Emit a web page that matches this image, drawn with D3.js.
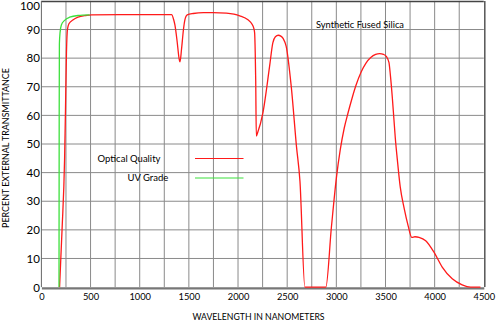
<!DOCTYPE html>
<html>
<head>
<meta charset="utf-8">
<script src="https://cdn.jsdelivr.net/npm/d3@7"></script>
<style>
  html, body { margin: 0; padding: 0; background: #fff; }
  svg { display: block; font-family: Lato, "Liberation Sans", sans-serif; }
</style>
</head>
<body>
<svg id="chart" width="497" height="324"></svg>
<script>
// Axis ticks and grid
const xTickValues = [0, 500, 1000, 1500, 2000, 2500, 3000, 3500, 4000, 4500];
const xGridValues = [250, 500, 750, 1000, 1250, 1500, 1750, 2000, 2250, 2500, 2750, 3000, 3250, 3500, 3750, 4000, 4250];
const yTickValues = [0, 10, 20, 30, 40, 50, 60, 70, 80, 90, 100];
const yGridValues = [10, 20, 30, 40, 50, 60, 70, 80, 90];

// Optical Quality transmittance curve (wavelength nm, % transmittance)
const opticalWavelength = [185, 210, 236, 245, 255, 265, 280, 320, 372, 456, 510, 800, 1100, 1324, 1345, 1358, 1380, 1400, 1410, 1425, 1445, 1459, 1483, 1544, 1650, 1746, 1882, 2017, 2101, 2140, 2160, 2169, 2175, 2180, 2186, 2200, 2253, 2321, 2354, 2380, 2410, 2435, 2460, 2490, 2541, 2595, 2630, 2680, 2893, 2950, 3000, 3040, 3080, 3120, 3160, 3200, 3250, 3300, 3350, 3400, 3440, 3480, 3510, 3535, 3550, 3570, 3585, 3600, 3620, 3650, 3690, 3730, 3767, 3800, 3841, 3909, 3993, 4077, 4179, 4280, 4365, 4466];
const opticalTransmittance = [0, 20, 45, 62, 82, 90, 92, 93.3, 94.3, 94.9, 95.1, 95.2, 95.2, 95.2, 93.5, 91.6, 86, 80, 78.7, 83, 90, 93.3, 95.1, 95.6, 95.9, 95.9, 95.7, 94.8, 93.4, 92, 90.5, 88.8, 82, 72, 52.8, 54, 60.9, 77.1, 85.3, 87.5, 88, 87.7, 86.8, 84.1, 70.2, 49, 37, 0, 0, 21, 38, 48, 55.5, 61, 66, 70.5, 75, 78.2, 80.2, 81.3, 81.6, 81.3, 80.5, 78.5, 74, 66, 59, 52, 44.7, 35, 27.5, 21.5, 17.4, 17.6, 17.4, 16.2, 12.2, 7, 2.9, 0.8, 0, 0];

// UV Grade transmittance curve
const uvWavelength = [179, 181, 183, 190, 203, 236, 287, 372, 490];
const uvTransmittance = [0, 60, 85, 89, 91.6, 93.2, 94.3, 94.9, 95.1];

const seriesNames = ["Optical Quality", "UV Grade"];
const seriesColors = ["#ff1a1a", "#3de03d"];
const chartTitle = "Synthetic Fused Silica";
const xTitle = "WAVELENGTH IN NANOMETERS";
const yTitle = "PERCENT EXTERNAL TRANSMITTANCE";

const svg = d3.select("#chart");

const x = d3.scaleLinear().domain([0, 4500]).range([41.4, 483.8]);
const y = d3.scaleLinear().domain([0, 100]).range([287.1, 0.9]);

// Grid
const grid = svg.append("g").attr("stroke", "#8a8a8a").attr("stroke-width", 1);
grid.selectAll("line.gx").data(xGridValues).join("line")
  .attr("class", "gx")
  .attr("x1", d => x(d)).attr("x2", d => x(d))
  .attr("y1", y(100)).attr("y2", y(0));
grid.selectAll("line.gy").data(yGridValues).join("line")
  .attr("class", "gy")
  .attr("x1", x(0)).attr("x2", x(4500))
  .attr("y1", d => y(d)).attr("y2", d => y(d));

// Frame
svg.append("line").attr("x1", x(0)).attr("x2", x(4500)).attr("y1", y(100) + 0.6).attr("y2", y(100) + 0.6)
  .attr("stroke", "#444").attr("stroke-width", 1.5);
svg.append("line").attr("x1", x(0)).attr("x2", x(0)).attr("y1", y(100)).attr("y2", y(0))
  .attr("stroke", "#666").attr("stroke-width", 1);
svg.append("line").attr("x1", x(4500) + 1).attr("x2", x(4500) + 1).attr("y1", y(100)).attr("y2", y(0))
  .attr("stroke", "#555").attr("stroke-width", 1.5);

// Axes
const xAxis = svg.append("g")
  .attr("transform", `translate(0,${y(0)})`)
  .call(d3.axisBottom(x).tickValues(xTickValues).tickSize(0).tickPadding(6.5).tickFormat(d3.format("d")));
xAxis.select(".domain").attr("stroke", "#777").attr("stroke-width", 2.4).attr("transform", "translate(0,0.8)");
xAxis.selectAll("text").attr("font-size", 9.3).attr("fill", "#000").attr("font-family", "Lato, sans-serif");

const yAxis = svg.append("g")
  .attr("transform", `translate(${x(0)},0)`)
  .call(d3.axisLeft(y).tickValues(yTickValues).tickSize(0).tickPadding(1.5).tickFormat(d3.format("d")));
yAxis.select(".domain").remove();
yAxis.selectAll("text").attr("font-size", 11.5).attr("fill", "#000").attr("font-family", "Lato, sans-serif");
yAxis.selectAll(".tick").filter(d => d === 100).select("text").attr("y", 5);
yAxis.selectAll(".tick").filter(d => d === 0).select("text").attr("y", 1);

// Curves
const line = d3.line().curve(d3.curveMonotoneX).x(d => x(d[0])).y(d => y(d[1]));
const opticalData = opticalWavelength.map((w, i) => [w, opticalTransmittance[i]]);
const uvData = uvWavelength.map((w, i) => [w, uvTransmittance[i]]);

svg.append("path").datum(opticalData)
  .attr("fill", "none").attr("stroke", seriesColors[0]).attr("stroke-width", 1.3)
  .attr("d", line);
svg.append("path").datum(uvData)
  .attr("fill", "none").attr("stroke", seriesColors[1]).attr("stroke-width", 1.3)
  .attr("d", line);

// Legend
const legend = svg.append("g");
const legendRows = [
  { name: seriesNames[0], color: seriesColors[0], tx: 97.5, ty: 158.5 },
  { name: seriesNames[1], color: seriesColors[1], tx: 127.5, ty: 178 }
];
legendRows.forEach(r => {
  legend.append("text").attr("x", r.tx).attr("y", r.ty).attr("dy", "0.35em")
    .attr("font-size", 9.5).attr("fill", "#000").text(r.name);
  legend.append("line").attr("x1", 195).attr("x2", 243.5).attr("y1", r.ty).attr("y2", r.ty)
    .attr("stroke", r.color).attr("stroke-width", 1.2);
});

// Titles
svg.append("text").attr("x", 316).attr("y", 25).attr("dy", "0.35em")
  .attr("font-size", 9.3).attr("fill", "#000").text(chartTitle);
svg.append("text").attr("x", 258.5).attr("y", 316.5).attr("dy", "0.35em").attr("text-anchor", "middle")
  .attr("font-size", 8.7).attr("fill", "#000").text(xTitle);
svg.append("text").attr("transform", "translate(6,148) rotate(-90)").attr("dy", "0.35em")
  .attr("text-anchor", "middle").attr("font-size", 8.9).attr("fill", "#000").text(yTitle);
</script>
</body>
</html>
